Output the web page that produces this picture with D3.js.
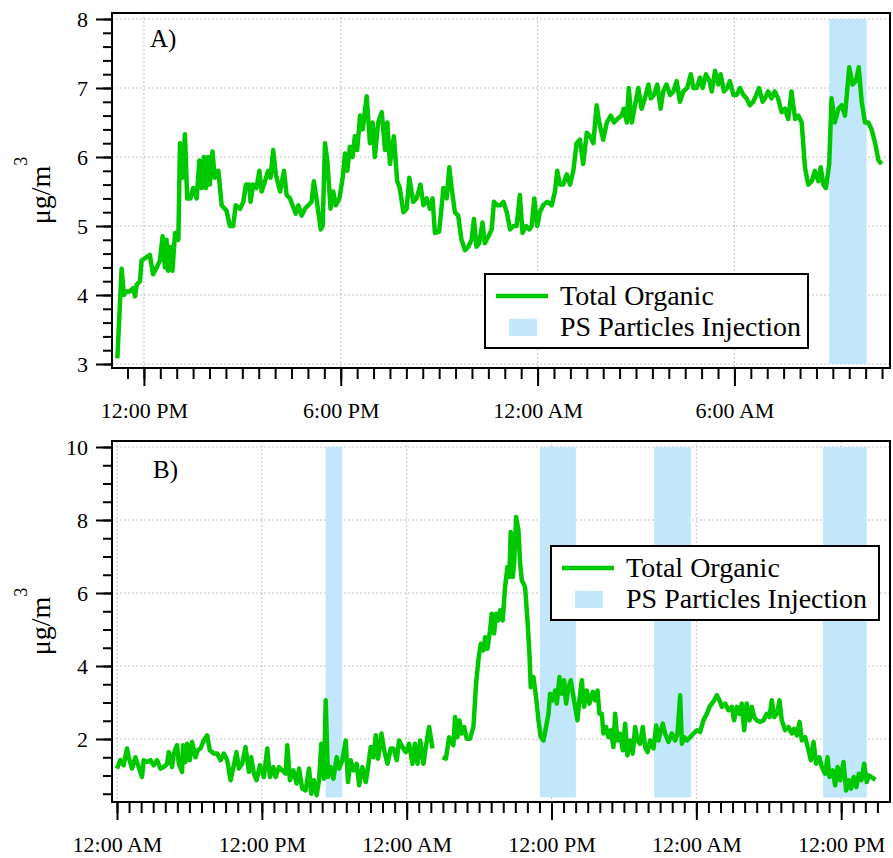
<!DOCTYPE html>
<html>
<head>
<meta charset="utf-8">
<script src="https://cdn.jsdelivr.net/npm/d3@7"></script>
<style>
body { margin: 0; background: #fff; }
svg { display: block; }
.axis path.domain { display: none; }
.axis line { stroke: #000; stroke-width: 2; }
.axis text { font-size: 22px; fill: #000; font-family: "Liberation Serif", "Times New Roman", serif; }
</style>
</head>
<body>
<svg id="chart"></svg>
<script>
// Total dimensions
var w = 893,
    h = 858;

// ---- Data (hours from midnight of the first day, µg/m3) ----
var timeA = [
  11.19, 11.32, 11.39, 11.47, 11.57, 11.67, 11.73, 11.78, 11.88, 11.93,
  12.08, 12.18, 12.28, 12.39, 12.49, 12.57, 12.64, 12.69, 12.74, 12.81,
  12.87, 12.95, 13.05, 13.10, 13.18, 13.25, 13.32, 13.42, 13.50, 13.61,
  13.69, 13.76, 13.83, 13.89, 13.96, 14.01, 14.09, 14.16, 14.27, 14.37,
  14.52, 14.62, 14.72, 14.80, 14.93, 15.03, 15.11, 15.21, 15.25, 15.33,
  15.43, 15.52, 15.59, 15.69, 15.79, 15.86, 15.94, 16.02, 16.15, 16.27,
  16.35, 16.45, 16.53, 16.63, 16.71, 16.81, 16.91, 17.01, 17.11, 17.18,
  17.26, 17.39, 17.45, 17.52, 17.59, 17.69, 17.77, 17.85, 17.96, 18.06,
  18.13, 18.20, 18.28, 18.36, 18.43, 18.50, 18.59, 18.67, 18.79, 18.89,
  18.97, 19.04, 19.14, 19.25, 19.35, 19.42, 19.50, 19.62, 19.72, 19.80,
  19.91, 20.01, 20.09, 20.21, 20.31, 20.43, 20.52, 20.62, 20.72, 20.80,
  20.87, 21.00, 21.13, 21.23, 21.31, 21.38, 21.48, 21.58, 21.68, 21.79,
  21.89, 21.99, 22.06, 22.14, 22.22, 22.32, 22.39, 22.50, 22.60, 22.67,
  22.77, 22.85, 22.96, 23.06, 23.16, 23.26, 23.36, 23.46, 23.54, 23.65,
  23.75, 23.82, 23.90, 23.99, 24.07, 24.17, 24.30, 24.43, 24.53, 24.60,
  24.68, 24.78, 24.89, 24.99, 25.09, 25.19, 25.29, 25.39, 25.50, 25.60,
  25.70, 25.80, 25.88, 26.00, 26.11, 26.23, 26.33, 26.43, 26.56, 26.63,
  26.72, 26.78, 26.87, 26.97, 27.07, 27.17, 27.27, 27.38, 27.45, 27.55,
  27.65, 27.75, 27.83, 27.93, 28.04, 28.14, 28.24, 28.34, 28.44, 28.56,
  28.67, 28.75, 28.85, 28.95, 29.03, 29.13, 29.24, 29.31, 29.41, 29.51,
  29.58, 29.68, 29.78, 29.86, 29.97, 30.07, 30.17, 30.27, 30.37, 30.47,
  30.57, 30.67, 30.75, 30.86, 30.93, 31.03, 31.13, 31.23, 31.33, 31.44,
  31.54, 31.64, 31.74, 31.85, 31.95, 32.05, 32.15, 32.25, 32.36, 32.45,
  32.56, 32.63, 32.71, 32.79, 32.89, 32.96, 33.06, 33.17, 33.27, 33.37,
  33.50, 33.60, 33.70, 33.79, 33.88, 33.98, 34.08, 34.18, 34.29, 34.39,
  34.49
];
var organicA = [
  3.08, 4.38, 4.00, 4.05, 4.05, 4.10, 3.98, 4.15, 4.20, 4.50,
  4.55, 4.58, 4.30, 4.40, 4.50, 4.85, 4.40, 4.80, 4.35, 4.70,
  4.35, 4.90, 4.80, 6.20, 5.70, 6.33, 5.40, 5.40, 5.55, 5.40,
  5.95, 5.55, 6.00, 5.55, 6.00, 5.60, 6.08, 5.70, 5.80, 5.30,
  5.22, 5.00, 5.00, 5.30, 5.25, 5.35, 5.60, 5.60, 5.35, 5.60,
  5.55, 5.80, 5.50, 5.65, 5.80, 5.70, 6.10, 5.75, 5.50, 5.80,
  5.45, 5.40, 5.30, 5.18, 5.30, 5.15, 5.25, 5.30, 5.35, 5.65,
  5.40, 4.95, 5.00, 6.20, 5.95, 5.25, 5.50, 5.30, 5.40, 5.70,
  6.05, 5.80, 6.15, 6.00, 6.30, 6.10, 6.60, 6.40, 6.88, 6.20,
  6.50, 6.00, 6.50, 6.65, 6.10, 6.50, 5.90, 6.30, 5.65, 5.55,
  5.20, 5.25, 5.70, 5.35, 5.40, 5.60, 5.30, 5.40, 5.25, 5.40,
  4.90, 4.92, 5.55, 5.40, 5.85, 5.55, 5.20, 5.15, 4.80, 4.65,
  4.70, 4.80, 5.10, 4.70, 4.75, 5.05, 4.75, 4.85, 4.95, 5.35,
  5.30, 5.30, 5.35, 5.20, 4.95, 5.00, 5.00, 5.45, 4.90, 5.00,
  4.95, 5.00, 5.40, 5.00, 5.20, 5.30, 5.35, 5.30, 5.50, 5.80,
  5.60, 5.60, 5.75, 5.60, 5.80, 6.20, 6.25, 5.90, 6.35, 6.30,
  6.20, 6.75, 6.50, 6.25, 6.50, 6.60, 6.50, 6.55, 6.60, 6.70,
  6.50, 7.00, 6.50, 6.75, 7.00, 6.70, 6.85, 7.05, 6.85, 6.90,
  7.05, 6.70, 6.95, 7.05, 6.90, 6.95, 7.10, 6.80, 6.95, 7.00,
  7.20, 7.00, 7.00, 7.15, 7.00, 7.20, 7.10, 6.95, 7.25, 7.05,
  7.20, 6.95, 7.00, 7.10, 6.90, 6.90, 7.00, 6.90, 6.85, 6.75,
  6.80, 6.90, 7.00, 6.80, 6.85, 6.95, 6.85, 6.95, 6.85, 6.65,
  6.70, 6.55, 6.95, 6.55, 6.60, 6.50, 5.85, 5.60, 5.65, 5.80,
  5.65, 5.85, 5.60, 5.55, 5.90, 6.85, 6.50, 6.70, 6.75, 6.60,
  7.30, 7.05, 7.10, 7.30, 6.80, 6.50, 6.50, 6.40, 6.20, 5.95,
  5.90
];
var bandStartA = [32.89],
    bandEndA = [34.03];

var timeB = [
  0.00, 0.28, 0.55, 0.83, 0.97, 1.24, 1.52, 1.80, 2.07, 2.21,
  2.49, 2.77, 3.04, 3.32, 3.60, 3.87, 4.15, 4.29, 4.56, 4.70,
  4.98, 5.12, 5.39, 5.48, 5.67, 5.81, 6.03, 6.22, 6.50, 6.69,
  6.92, 7.19, 7.47, 7.69, 8.02, 8.30, 8.58, 8.85, 9.13, 9.41,
  9.68, 9.90, 10.10, 10.37, 10.65, 10.93, 11.12, 11.34, 11.56, 11.84,
  12.17, 12.45, 12.67, 12.95, 13.14, 13.42, 13.69, 13.97, 14.11, 14.33,
  14.61, 14.88, 15.08, 15.35, 15.63, 15.91, 16.10, 16.32, 16.54, 16.74,
  16.93, 17.15, 17.29, 17.48, 17.70, 17.93, 18.20, 18.40, 18.67, 18.95,
  19.14, 19.36, 19.59, 19.86, 20.06, 20.33, 20.61, 20.80, 21.02, 21.24,
  21.44, 21.63, 21.91, 22.13, 22.41, 22.68, 22.91, 23.18, 23.37, 23.65,
  23.93, 24.20, 24.48, 24.68, 24.90, 25.12, 25.39, 25.59, 25.86, 26.14,
  26.55, 26.97, 27.25, 27.52, 27.87, 28.01, 28.20, 28.37, 28.56, 28.76,
  28.98, 29.25, 29.53, 29.75, 29.94, 30.14, 30.36, 30.50, 30.69, 30.91,
  31.05, 31.24, 31.41, 31.60, 31.74, 31.96, 32.15, 32.35, 32.51, 32.62,
  32.79, 32.90, 33.07, 33.26, 33.40, 33.54, 33.81, 34.01, 34.17, 34.28,
  34.50, 34.72, 34.92, 35.11, 35.33, 35.55, 35.75, 35.88, 36.10, 36.30,
  36.44, 36.66, 36.85, 37.04, 37.21, 37.40, 37.60, 37.82, 37.96, 38.15,
  38.31, 38.51, 38.70, 38.92, 39.14, 39.42, 39.61, 39.81, 39.97, 40.17,
  40.30, 40.52, 40.72, 40.91, 41.13, 41.27, 41.46, 41.68, 41.91, 42.10,
  42.29, 42.51, 42.73, 42.93, 43.12, 43.34, 43.56, 43.76, 43.95, 44.17,
  44.45, 44.67, 44.86, 45.06, 45.22, 45.41, 45.69, 45.97, 46.24, 46.44,
  46.66, 46.80, 46.99, 47.21, 47.49, 47.76, 48.04, 48.31, 48.59, 48.87,
  49.09, 49.28, 49.48, 49.70, 49.92, 50.11, 50.39, 50.66, 50.94, 51.13,
  51.35, 51.57, 51.77, 51.96, 52.18, 52.40, 52.60, 52.79, 53.01, 53.29,
  53.56, 53.84, 54.06, 54.25, 54.45, 54.67, 54.89, 55.08, 55.36, 55.64,
  55.91, 56.10, 56.33, 56.55, 56.74, 57.02, 57.29, 57.49, 57.71, 57.93,
  58.20, 58.40, 58.67, 58.87, 59.03, 59.31, 59.50, 59.70, 59.92, 60.19,
  60.41, 60.63, 60.82, 61.04, 61.26, 61.46, 61.68, 61.90, 62.12, 62.29,
  62.48, 62.71, 62.85
];
var organicB = [
  1.19, 1.42, 1.28, 1.74, 1.50, 1.19, 1.50, 1.23, 0.96, 1.42,
  1.37, 1.42, 1.28, 1.42, 1.19, 1.23, 1.32, 1.64, 1.23, 1.60,
  1.83, 1.32, 1.10, 1.83, 1.37, 1.87, 1.42, 1.92, 1.50, 1.69,
  1.74, 1.96, 2.10, 1.69, 1.60, 1.60, 1.42, 1.60, 1.42, 0.87,
  1.28, 1.64, 1.19, 1.32, 1.78, 1.10, 1.50, 1.05, 0.87, 1.28,
  0.96, 1.74, 0.96, 1.23, 0.96, 1.23, 1.14, 1.05, 1.83, 0.87,
  1.14, 0.78, 1.19, 0.64, 0.59, 1.19, 0.50, 0.87, 0.46, 0.87,
  1.87, 0.91, 3.06, 0.96, 1.23, 0.91, 1.50, 1.19, 1.42, 1.96,
  0.82, 1.42, 1.14, 1.32, 0.73, 1.23, 0.82, 1.23, 1.78, 1.50,
  2.10, 1.46, 2.15, 1.69, 1.32, 1.74, 1.74, 1.42, 1.96, 1.78,
  1.64, 1.87, 1.32, 1.87, 1.32, 1.96, 1.32, 1.78, 2.33, 1.74,
  null, 1.50, 1.46, 2.05, 1.83, 2.60, 2.05, 2.51, 2.15, 2.33,
  2.01, 2.01, 2.33, 3.52, 4.16, 4.61, 4.43, 4.79, 4.47, 4.98,
  5.43, 4.89, 5.43, 5.25, 5.53, 5.25, 6.16, 6.71, 6.44, 7.67,
  6.44, 6.80, 8.08, 7.72, 6.80, 6.35, 6.16, 5.25, 4.34, 3.42,
  3.70, 3.15, 2.51, 2.05, 1.96, 2.33, 2.69, 3.24, 3.06, 3.33,
  2.97, 3.70, 3.24, 3.61, 2.97, 3.42, 3.61, 3.15, 2.88, 2.51,
  3.06, 3.61, 2.88, 3.33, 2.97, 3.29, 3.06, 3.33, 2.69, 2.69,
  2.15, 2.33, 2.05, 2.24, 1.78, 2.69, 1.96, 2.15, 1.69, 2.42,
  1.55, 1.96, 1.60, 2.33, 1.96, 1.87, 2.33, 1.78, 1.64, 1.96,
  1.74, 2.37, 1.96, 2.24, 2.42, 2.15, 1.92, 2.15, 1.96, 2.15,
  3.20, 1.87, 2.05, 1.96, 2.05, 2.15, 2.24, 2.19, 2.51, 2.69,
  2.88, 2.97, 3.06, 3.20, 3.06, 2.88, 2.97, 2.79, 2.88, 2.51,
  2.88, 2.69, 2.97, 2.24, 2.97, 2.51, 2.88, 2.60, 2.51, 2.47,
  2.51, 2.69, 2.60, 3.06, 2.60, 2.69, 3.06, 2.51, 2.24, 2.33,
  2.15, 2.28, 2.10, 2.47, 1.96, 2.05, 1.69, 1.42, 1.92, 1.32,
  1.50, 1.23, 1.05, 1.50, 0.96, 1.14, 0.73, 1.23, 0.87, 1.37,
  0.59, 0.87, 0.64, 0.96, 0.68, 1.05, 0.87, 1.32, 0.82, 1.00,
  0.96, 0.91, 0.89
];
var bandStartB = [17.29, 35.05, 44.50, 58.50],
    bandEndB = [18.66, 38.02, 47.56, 62.12];

var ticksA = [3, 4, 5, 6, 7, 8],
    ticksB = [2, 4, 6, 8, 10];
var legendLabels = ["Total Organic", "PS Particles Injection"];

var green = "#00c800",
    blue = "#c2e7fb",
    serif = "'Liberation Serif', 'Times New Roman', serif";

var day0 = new Date(2016, 0, 1, 0, 0);
function toDate(hr) { return new Date(day0.getTime() + hr * 3600e3); }
var fmt = d3.timeFormat("%-I:%M %p");

var svg = d3.select("#chart")
    .attr("width", w)
    .attr("height", h);

var drawPanel = function(p) {
    var g = svg.append("g");
    var frame = p.frame;

    var x = d3.scaleTime()
        .domain([toDate(p.xDomain[0]), toDate(p.xDomain[1])])
        .range(p.xRange);
    var y = d3.scaleLinear()
        .domain(p.yDomain)
        .range(p.yRange);

    // grid
    x.ticks(p.majorX).forEach(function(t) {
        g.append("line")
            .attr("x1", x(t)).attr("x2", x(t))
            .attr("y1", frame.y).attr("y2", frame.y + frame.h)
            .attr("stroke", "#c4c4c4")
            .attr("stroke-dasharray", "2,2");
    });
    p.yTicks.forEach(function(v) {
        g.append("line")
            .attr("x1", frame.x).attr("x2", frame.x + frame.w)
            .attr("y1", y(v)).attr("y2", y(v))
            .attr("stroke", "#c4c4c4")
            .attr("stroke-dasharray", "2,2");
    });

    // injection bands
    g.selectAll("rect.band")
        .data(p.bandStart)
        .enter().append("rect")
        .attr("class", "band")
        .attr("x", function(d) { return x(toDate(d)); })
        .attr("width", function(d, i) { return x(toDate(p.bandEnd[i])) - x(toDate(d)); })
        .attr("y", y(p.yDomain[1]))
        .attr("height", y(p.yDomain[0]) - y(p.yDomain[1]))
        .attr("fill", blue);

    // total organic
    var data = p.time.map(function(t, i) { return { t: toDate(t), v: p.values[i] }; });
    var line = d3.line()
        .defined(function(d) { return d.v != null; })
        .x(function(d) { return x(d.t); })
        .y(function(d) { return y(d.v); });

    g.append("path")
        .datum(data)
        .attr("fill", "none")
        .attr("stroke", green)
        .attr("stroke-width", 4.5)
        .attr("stroke-linejoin", "round")
        .attr("d", line);

    // legend
    var lg = g.append("g")
        .attr("transform", "translate(" + p.legend[0] + "," + p.legend[1] + ")");
    lg.append("rect")
        .attr("width", p.legend[2]).attr("height", 74)
        .attr("fill", "#fff")
        .attr("stroke", "#000")
        .attr("stroke-width", 2);
    lg.append("line")
        .attr("x1", 11).attr("x2", 63)
        .attr("y1", 22).attr("y2", 22)
        .attr("stroke", green)
        .attr("stroke-width", 4.5);
    lg.append("rect")
        .attr("x", 24).attr("y", 45)
        .attr("width", 28).attr("height", 17)
        .attr("fill", blue);
    lg.selectAll("text")
        .data(legendLabels)
        .enter().append("text")
        .attr("x", 75)
        .attr("y", function(d, i) { return 31 + i * 31; })
        .attr("font-family", serif)
        .attr("font-size", 28)
        .text(function(d) { return d; });

    // axes
    g.append("g")
        .attr("class", "axis")
        .attr("transform", "translate(0," + (frame.y + frame.h) + ")")
        .call(d3.axisBottom(x).ticks(p.minorX).tickSize(11).tickFormat(""));
    g.append("g")
        .attr("class", "axis")
        .attr("transform", "translate(0," + (frame.y + frame.h) + ")")
        .call(d3.axisBottom(x).ticks(p.majorX).tickSize(18).tickPadding(16).tickFormat(fmt));

    g.append("g")
        .attr("class", "axis")
        .attr("transform", "translate(" + frame.x + ",0)")
        .call(d3.axisLeft(y).tickValues(p.yMinor).tickSize(9).tickFormat(""));
    g.append("g")
        .attr("class", "axis")
        .attr("transform", "translate(" + frame.x + ",0)")
        .call(d3.axisLeft(y).tickValues(p.yTicks).tickSize(16).tickPadding(8).tickFormat(d3.format("d")));

    // frame
    g.append("rect")
        .attr("x", frame.x).attr("y", frame.y)
        .attr("width", frame.w).attr("height", frame.h)
        .attr("fill", "none")
        .attr("stroke", "#000")
        .attr("stroke-width", 2);

    // panel label
    g.append("text")
        .attr("x", p.label[1]).attr("y", p.label[2])
        .attr("font-family", serif)
        .attr("font-size", 25)
        .text(p.label[0]);

    // y title
    var cy = frame.y + frame.h / 2;
    var yt = g.append("text")
        .attr("transform", "translate(50," + cy + ") rotate(-90)")
        .attr("text-anchor", "middle")
        .attr("font-family", serif)
        .attr("font-size", 28);
    yt.append("tspan").text("\u03bcg/m");
    yt.append("tspan").attr("dy", -23).attr("font-size", 18).text("3");
};

// ==================== A ====================
drawPanel({
    frame: { x: 112, y: 13, w: 778, h: 355 },
    xDomain: [11.18, 34.59], xRange: [117, 885],
    yDomain: [3, 8], yRange: [364, 19],
    yTicks: ticksA, yMinor: d3.range(3, 8.01, 0.2),
    majorX: d3.timeHour.every(6), minorX: d3.timeMinute.every(30),
    time: timeA, values: organicA,
    bandStart: bandStartA, bandEnd: bandEndA,
    legend: [485, 274, 323],
    label: ["A)", 150, 47]
});

// ==================== B ====================
drawPanel({
    frame: { x: 112, y: 441, w: 778, h: 361 },
    xDomain: [0, 63.63], xRange: [117, 885],
    yDomain: [0.4, 10], yRange: [797.4, 447],
    yTicks: ticksB, yMinor: d3.range(0.5, 10.01, 0.5),
    majorX: d3.timeHour.every(12), minorX: d3.timeHour.every(1),
    time: timeB, values: organicB,
    bandStart: bandStartB, bandEnd: bandEndB,
    legend: [551, 546, 328],
    label: ["B)", 153, 478]
});
</script>
</body>
</html>
